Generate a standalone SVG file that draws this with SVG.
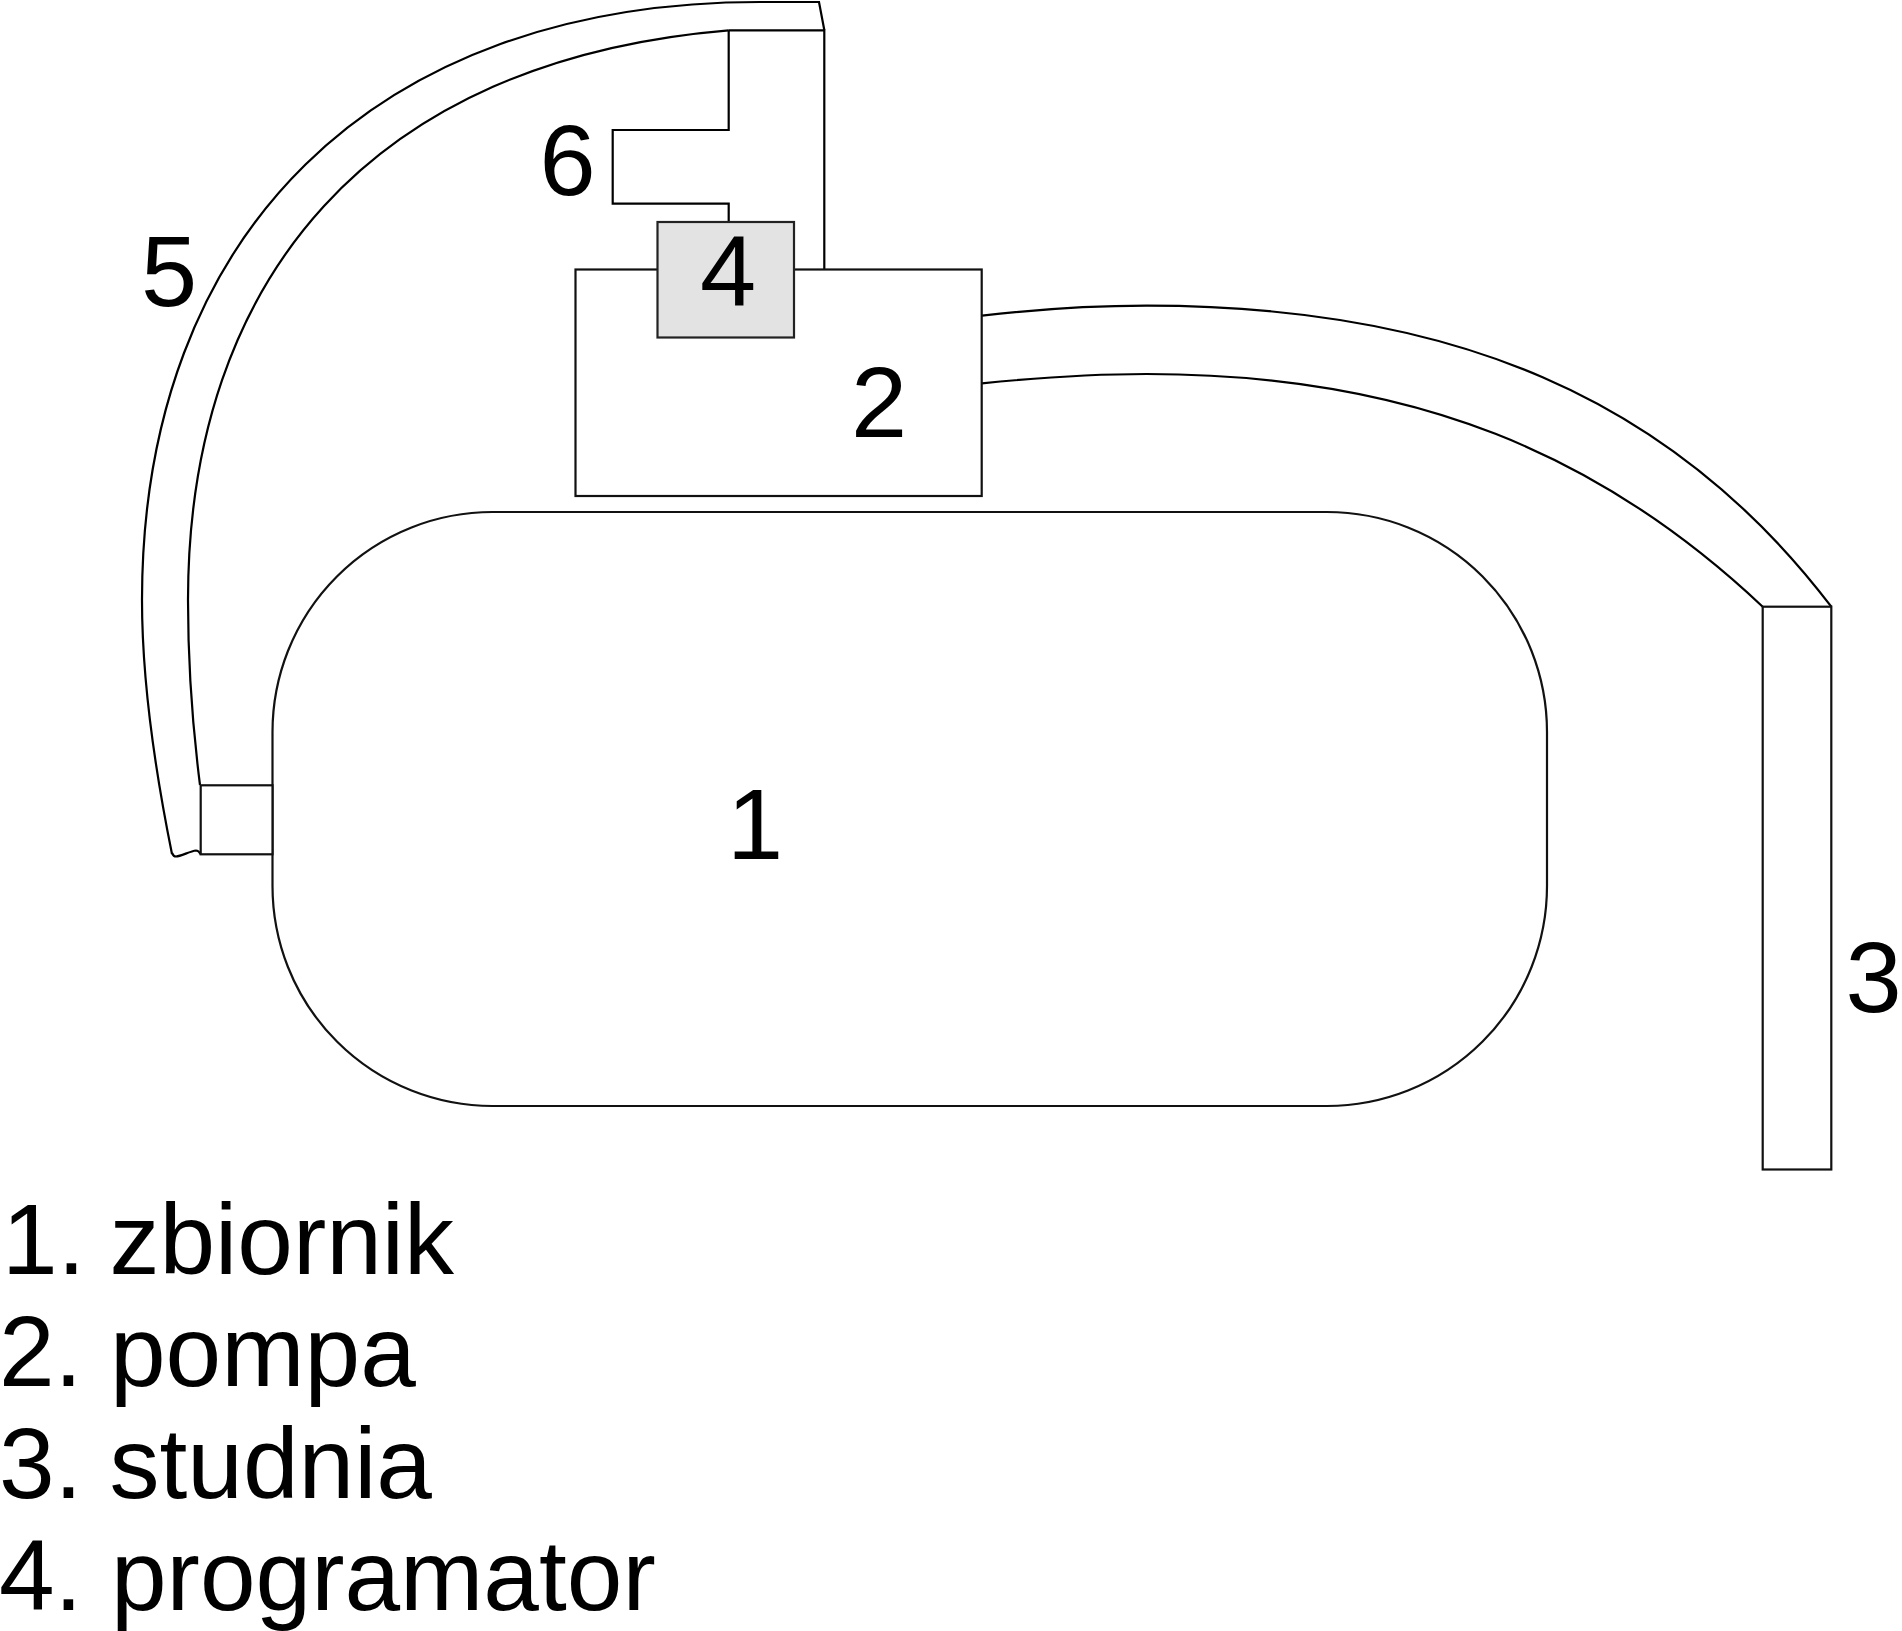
<svg xmlns="http://www.w3.org/2000/svg" width="1902" height="1631" viewBox="0 0 1902 1631">
<style>
.s{fill:none;stroke:#000;stroke-width:2.2;stroke-linejoin:miter}
.b{fill:#fff;stroke:#111;stroke-width:2.2}
.g{fill:#e3e3e3;stroke:#222;stroke-width:2.2}
text{font-family:"Liberation Sans",Arial,sans-serif;font-size:101px;fill:#000}
#legend text{font-size:100px}
</style>
<rect width="1902" height="1631" fill="#fff"/>
<g id="connectors">
<path id="pipe-5-outer" class="s" d="M172 854C155 770 142 680 142 600C142 236 372 2 760 2L819 2L824.300 30"/>
<path id="pipe-5-inner" class="s" d="M200 785C193 730 188 665 188 600C188 280 370 60 728.700 30.300"/>
<path id="pipe-5-end" class="s" d="M172 853Q173.500 856.500 176 856.500C181 856.500 190 851 196 850.500Q198.500 850.500 200.700 854.300"/>
<path id="pipe-6" class="s" d="M728.700 30.300H824.300V269.500M728.700 30.300V130H612.700V203.700H728.700V222"/>
<path id="pipe-3-outer" class="s" d="M982 315.700C1040 309 1100 305.700 1146.700 305.700C1450 305.700 1671 396 1831.300 606.700"/>
<path id="pipe-3-inner" class="s" d="M982 383.300C1040 377.500 1100 374 1146.700 374C1415 374 1603 456 1762.700 606.700"/>
</g>
<g id="node-1"><rect class="b" x="272.500" y="512" width="1274.500" height="594" rx="220" ry="220"/><text x="727" y="859">1</text></g>
<g id="node-2"><rect class="b" x="575.500" y="269.500" width="406.200" height="226.500"/><text x="851" y="436.700">2</text></g>
<g id="node-3"><rect class="b" x="1762.700" y="606.700" width="68.600" height="562.800"/><text x="1845.500" y="1012">3</text></g>
<g id="node-4"><rect class="g" x="657.500" y="222" width="136.500" height="115.500"/><text x="700" y="306">4</text></g>
<g id="node-5"><rect class="b" x="200.700" y="785.300" width="71.800" height="69"/><text x="141" y="306">5</text></g>
<g id="node-6"><text x="539.500" y="195">6</text></g>
<g id="legend">
<text x="2" y="1274">1.<tspan x="109.500">zbiornik</tspan></text>
<text x="-1" y="1385.700">2.<tspan x="110">pompa</tspan></text>
<text x="-1" y="1497.700">3.<tspan x="109.500">studnia</tspan></text>
<text x="-1" y="1610">4.<tspan x="111">programator</tspan></text>
</g>
</svg>
